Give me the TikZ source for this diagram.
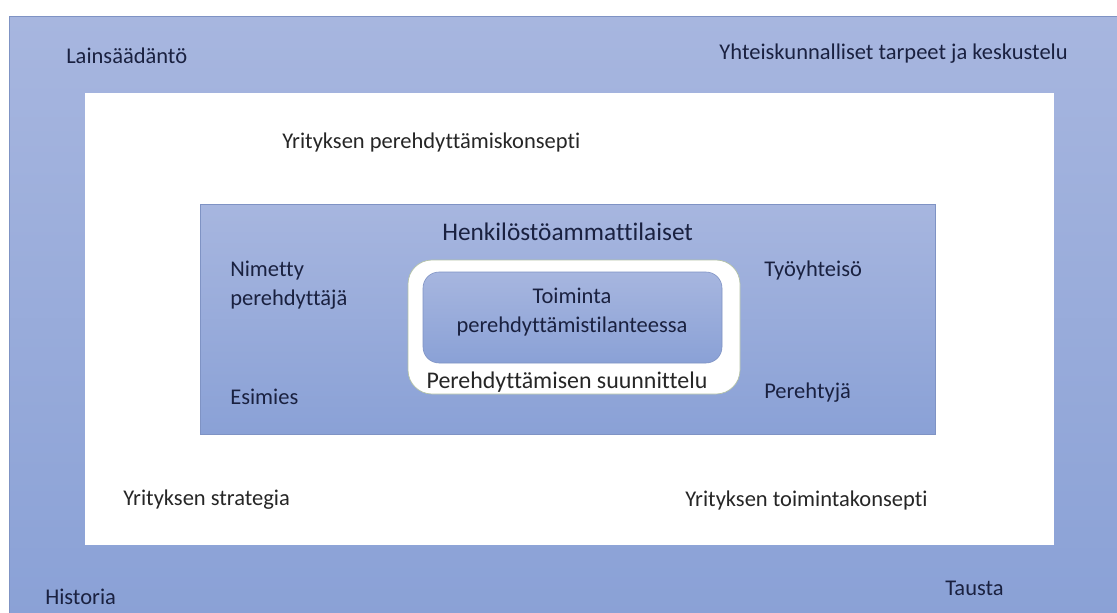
\documentclass[tikz,border=0pt]{standalone}
\usepackage{fontspec}
\setmainfont{Carlito}[Ligatures=NoCommon]
\definecolor{bandtop}{HTML}{A7B6DF}
\definecolor{bandbot}{HTML}{8AA1D6}
\definecolor{edgeblue}{HTML}{7F93C4}
\definecolor{edgegreen}{HTML}{B3C2A6}
\definecolor{inktext}{HTML}{1A2140}
\tikzset{
bluefield/.style={top color=bandtop, bottom color=bandbot, draw=edgeblue, line width=0.4pt},
whitefield/.style={fill=white, draw=none},
lbl/.style={font=\fontsize{16}{19}\selectfont, text=inktext, inner sep=0pt},
lblw/.style={lbl, text=black!85},
}
\begin{document}
\begin{tikzpicture}[x=0.25mm,y=-0.25mm]
\useasboundingbox (0,0) rectangle (1117,613);
\fill[white] (0,0) rectangle (1117,613);

% background band
\begin{scope}
\clip (0,0) rectangle (1117,613);
\draw[bluefield] (9,16) rectangle (1125,620);
\end{scope}
\node[lbl, anchor=west] (laws) at (66,56) {Lainsäädäntö};
\node[lbl, anchor=east] (society) at (1068,54) {Yhteiskunnalliset tarpeet ja keskustelu};
\node[lbl, anchor=west] (history) at (45,597) {Historia};
\node[lbl, anchor=west] (background) at (945,588) {Tausta};

% company level
\fill[whitefield] (85,93) rectangle (1054,545);
\node[lblw, anchor=west] (concept) at (282,143) {Yrityksen perehdyttämiskonsepti};
\node[lblw, anchor=west] (strategy) at (123,500) {Yrityksen strategia};
\node[lblw, anchor=west] (operation) at (685,500) {Yrityksen toimintakonsepti};

% actors
\draw[bluefield] (200,204) rectangle (935,434);
\node[lbl, anchor=west, font=\fontsize{18}{21}\selectfont] (hr) at (442,232) {Henkilöstöammattilaiset};
\node[lbl, anchor=west, align=left] (mentor) at (230,285) {Nimetty\\[2pt]perehdyttäjä};
\node[lbl, anchor=west] (boss) at (230,397) {Esimies};
\node[lbl, anchor=west] (workers) at (764,270) {Työyhteisö};
\node[lbl, anchor=west] (newbie) at (764,393) {Perehtyjä};

% planning and action
\draw[fill=white, draw=edgegreen, line width=0.5pt, rounded corners=6mm] (408,260) rectangle (740,394);
\draw[bluefield, rounded corners=4mm] (423,272) rectangle (722,363);
\node[lbl, align=center] (action) at (572,312) {Toiminta\\[2pt]perehdyttämistilanteessa};
\node[lblw, font=\fontsize{17}{20}\selectfont] (planning) at (567,382) {Perehdyttämisen suunnittelu};
\end{tikzpicture}
\end{document}
